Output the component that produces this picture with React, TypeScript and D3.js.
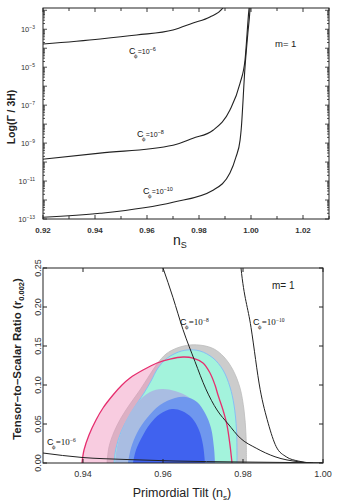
import React from 'react';
import * as d3 from 'd3';

const SANS = "'Liberation Sans', Arial, Helvetica, sans-serif";
const SERIF = "'Liberation Serif', 'Times New Roman', serif";

// ---- top panel: log10(Γ/3H) vs n_s ----
const topNs6 = [0.92, 0.942, 0.956, 0.97, 0.9777, 0.9842, 0.9892, 0.9905];
const topLog6 = [-3.78, -3.51, -3.3, -3.04, -2.67, -2.35, -1.88, -1.6];
const topNs8 = [0.92, 0.9419, 0.97, 0.9777, 0.9854, 0.9919, 0.9958, 0.9977, 0.9992, 0.9996];
const topLog8 = [-9.85, -9.53, -9.11, -8.74, -8.32, -7.26, -5.84, -4.62, -1.98, -1.5];
const topNs10 = [0.92, 0.9419, 0.97, 0.9854, 0.9919, 0.9942, 0.9958, 0.9962, 0.9977, 0.9988, 0.9996, 0.9998];
const topLog10 = [-12.91, -12.7, -12.12, -11.48, -10.58, -9.74, -8.84, -8.32, -4.99, -3.2, -1.98, -1.5];
const topXTicks = [0.92, 0.94, 0.96, 0.98, 1.0, 1.02];
const topExpLabels = [-3, -5, -7, -9, -11, -13];

// ---- bottom panel: r vs n_s ----
const botNs6 = [0.93, 0.93975, 0.95075, 0.9625, 0.97925, 0.99425, 1.0];
const botR6 = [0.0128, 0.0071, 0.0045, 0.0026, 0.0013, 0.0005, 0.0003];
const botNs8 = [0.9593, 0.96, 0.9625, 0.965, 0.968, 0.9707, 0.9735, 0.9763, 0.9793, 0.9833, 0.988, 0.994, 0.9975];
const botR8 = [0.26, 0.25, 0.212, 0.171, 0.13, 0.095, 0.068, 0.05, 0.032, 0.019, 0.008, 0.0015, 0];
const botNs10 = [0.9793, 0.9795, 0.982, 0.9843, 0.9863, 0.9883, 0.9908, 0.9938, 0.997];
const botR10 = [0.26, 0.25, 0.174, 0.094, 0.051, 0.021, 0.008, 0.0025, 0];

// contours (n_s, r)
const grayNs = [0.946, 0.9465, 0.94775, 0.9495, 0.95175, 0.95425, 0.9565, 0.9585, 0.96075, 0.9635, 0.96675, 0.97, 0.97275, 0.97525, 0.9775, 0.97925, 0.98025, 0.98075, 0.98088];
const grayR = [0, 0.0205, 0.0397, 0.0577, 0.0756, 0.0936, 0.1115, 0.1269, 0.1397, 0.1474, 0.1513, 0.1506, 0.1462, 0.1359, 0.1192, 0.0962, 0.068, 0.0359, 0];
const pinkNs = [0.93975, 0.94025, 0.9415, 0.94325, 0.945, 0.9475, 0.94975, 0.95175, 0.955, 0.9585, 0.96175, 0.965, 0.9675, 0.97, 0.97175, 0.973, 0.97375, 0.975, 0.976, 0.97675, 0.97725];
const pinkR = [0, 0.0167, 0.0359, 0.0551, 0.0705, 0.0872, 0.1, 0.109, 0.1192, 0.1282, 0.1333, 0.1359, 0.1346, 0.1282, 0.1154, 0.1, 0.0872, 0.068, 0.0487, 0.023, 0];
const cyanNs = [0.94775, 0.94825, 0.9495, 0.95125, 0.95325, 0.95525, 0.957, 0.95875, 0.96075, 0.96325, 0.966, 0.96925, 0.9725, 0.975, 0.97675, 0.97775, 0.97838, 0.9785];
const cyanR = [0, 0.0192, 0.0397, 0.0577, 0.0744, 0.0897, 0.1051, 0.1218, 0.1333, 0.141, 0.1449, 0.1436, 0.1346, 0.1192, 0.0974, 0.0744, 0.0423, 0];
const steelNs = [0.948, 0.9485, 0.94975, 0.9515, 0.95375, 0.95675, 0.95975, 0.963, 0.96675, 0.9695, 0.971, 0.9715];
const steelR = [0, 0.0205, 0.0423, 0.0615, 0.0782, 0.091, 0.0949, 0.0923, 0.0833, 0.0654, 0.0397, 0];
const midNs = [0.95125, 0.952, 0.9535, 0.956, 0.95925, 0.963, 0.96575, 0.9685, 0.9705, 0.972, 0.97275, 0.973];
const midR = [0, 0.0192, 0.0385, 0.0577, 0.0744, 0.0833, 0.0846, 0.0782, 0.0641, 0.0449, 0.0192, 0];
const darkNs = [0.9525, 0.95325, 0.95475, 0.95675, 0.95925, 0.96225, 0.96475, 0.96725, 0.969, 0.97, 0.9705];
const darkR = [0, 0.0167, 0.0333, 0.05, 0.0628, 0.0692, 0.0667, 0.0577, 0.0423, 0.0231, 0];
const botXTicks = [0.94, 0.96, 0.98, 1.0];
const botYTicks = [0, 0.05, 0.1, 0.15, 0.2, 0.25];

const tx = d3.scaleLinear().domain([0.92, 1.03]).range([43, 329]);
const ty = d3.scaleLog().domain([1e-13, Math.pow(10, -1.88)]).range([219, 8]);
const bx = d3.scaleLinear().domain([0.93, 1.0]).range([43, 323]);
const by = d3.scaleLinear().domain([0, 0.25]).range([463, 268]);

const topLine = d3.line<[number, number]>()
  .x(d => tx(d[0])).y(d => ty(Math.pow(10, d[1])))
  .curve(d3.curveMonotoneX);
const botLine = d3.line<[number, number]>()
  .x(d => bx(d[0])).y(d => by(d[1]))
  .curve(d3.curveMonotoneX);
const blob = d3.line<[number, number]>()
  .x(d => bx(d[0])).y(d => by(d[1]))
  .curve(d3.curveCatmullRom.alpha(0.5));

const pairs = (a: number[], b: number[]) => d3.zip(a, b) as [number, number][];
const contour = (a: number[], b: number[]) => blob(pairs(a, b)) + 'Z';

function CLabel({ x, y, exp, serif }: { x: number; y: number; exp: string; serif?: boolean }) {
  return (
    <text x={x} y={y} fontFamily={SANS} fontSize={9} fill="#111">
      C
      <tspan dx={-1.5} dy={3.5} fontSize={6.5} fontFamily={SERIF}>ϕ</tspan>
      <tspan dx={0.3} dy={-3.5} fontSize={serif ? 9 : 7} fontFamily={serif ? SERIF : SANS}>=10</tspan>
      <tspan dy={-3.5} fontSize={5.5} fontFamily={serif ? SERIF : SANS}>{exp}</tspan>
    </text>
  );
}

function TopPanel() {
  const minorX = d3.range(92, 104).map(v => v / 100);
  const logTicks: { v: number; major: boolean }[] = [];
  for (let e = -13; e <= -2; e++) {
    for (let k = 1; k <= 9; k++) {
      const v = k * Math.pow(10, e);
      if (v >= 1e-13 && v <= Math.pow(10, -1.88)) logTicks.push({ v, major: k === 1 });
    }
  }
  const [x0, x1] = tx.range();
  const [y0, y1] = ty.range();
  return (
    <g>
      <defs>
        <clipPath id="clipTop"><rect x={x0} y={y1} width={x1 - x0} height={y0 - y1} /></clipPath>
      </defs>
      <g clipPath="url(#clipTop)" fill="none" stroke="#222" strokeWidth={1.1}>
        <path d={topLine(pairs(topNs6, topLog6)) || ''} />
        <path d={topLine(pairs(topNs8, topLog8)) || ''} />
        <path d={topLine(pairs(topNs10, topLog10)) || ''} />
      </g>
      <rect x={x0} y={y1} width={x1 - x0} height={y0 - y1} fill="none" stroke="#222" strokeWidth={1} />
      {minorX.map(v => {
        const major = topXTicks.some(t => Math.abs(t - v) < 1e-6);
        const l = major ? 4 : 3;
        return (
          <g key={v} stroke="#222" strokeWidth={0.9}>
            <line x1={tx(v)} x2={tx(v)} y1={y0} y2={y0 - l} />
            <line x1={tx(v)} x2={tx(v)} y1={y1} y2={y1 + l} />
          </g>
        );
      })}
      {logTicks.map(t => {
        const l = t.major ? 4 : 2;
        return (
          <g key={t.v} stroke="#222" strokeWidth={0.8}>
            <line x1={x0} x2={x0 + l} y1={ty(t.v)} y2={ty(t.v)} />
            <line x1={x1} x2={x1 - l} y1={ty(t.v)} y2={ty(t.v)} />
          </g>
        );
      })}
      {topXTicks.map(v => (
        <text key={v} x={tx(v)} y={233} textAnchor="middle" fontFamily={SANS} fontSize={8} fontWeight="bold" fill="#333">
          {d3.format('.2f')(v)}
        </text>
      ))}
      {topExpLabels.map(e => (
        <text key={e} x={35} y={ty(Math.pow(10, e)) + 3} textAnchor="end" fontFamily={SANS} fontSize={7.5} fill="#333">
          10<tspan dy={-3} fontSize={5}>{'−' + (-e)}</tspan>
        </text>
      ))}
      <text transform="translate(15,117) rotate(-90)" textAnchor="middle" fontFamily={SANS} fontSize={10.5} fontWeight="bold" fill="#222">
        Log(Γ / 3H)
      </text>
      <text x={173} y={245} fontFamily={SANS} fontSize={14} fill="#222">
        n<tspan dy={3} fontSize={9}>S</tspan>
      </text>
      <text x={275} y={47} fontFamily={SANS} fontSize={9.5} fill="#222">m= 1</text>
      <CLabel x={129} y={54} exp="−6" />
      <CLabel x={137} y={137} exp="−8" />
      <CLabel x={143} y={194} exp="−10" />
    </g>
  );
}

function BottomPanel() {
  const [x0, x1] = bx.range();
  const [y0, y1] = by.range();
  return (
    <g>
      <defs>
        <clipPath id="clipBot"><rect x={x0} y={y1} width={x1 - x0} height={y0 - y1} /></clipPath>
      </defs>
      <g clipPath="url(#clipBot)">
        <path d={contour(grayNs, grayR)} fill="#cccccc" stroke="#bcbcbc" strokeWidth={0.8} />
        <path d={contour(pinkNs, pinkR)} fill="#ef8fbb" fillOpacity={0.45} />
        <path d={contour(cyanNs, cyanR)} fill="#a3f3dc" stroke="#86c0f5" strokeWidth={1} />
        <path d={contour(steelNs, steelR)} fill="#a9bde2" />
        <path d={contour(midNs, midR)} fill="#6f97ee" />
        <path d={contour(darkNs, darkR)} fill="#4062ef" />
        <path d={blob(pairs(pinkNs, pinkR)) || ''} fill="none" stroke="#e62e6e" strokeWidth={1.3} />
        <g fill="none" stroke="#222" strokeWidth={1}>
          <path d={botLine(pairs(botNs6, botR6)) || ''} />
          <path d={botLine(pairs(botNs8, botR8)) || ''} />
          <path d={botLine(pairs(botNs10, botR10)) || ''} />
        </g>
      </g>
      <rect x={x0} y={y1} width={x1 - x0} height={y0 - y1} fill="none" stroke="#222" strokeWidth={1} />
      {botXTicks.map(v => (
        <g key={v}>
          <line x1={bx(v)} x2={bx(v)} y1={y0} y2={y0 - 4} stroke="#222" />
          <line x1={bx(v)} x2={bx(v)} y1={y1} y2={y1 + 4} stroke="#222" />
          <text x={bx(v)} y={477} textAnchor="middle" fontFamily={SANS} fontSize={9} fill="#333">
            {d3.format('.2f')(v)}
          </text>
        </g>
      ))}
      {botYTicks.map(v => (
        <g key={v}>
          <line x1={x0} x2={x0 + 4} y1={by(v)} y2={by(v)} stroke="#222" />
          <line x1={x1} x2={x1 - 4} y1={by(v)} y2={by(v)} stroke="#222" />
          <text transform={`translate(41,${by(v)}) rotate(-90)`} textAnchor="middle" fontFamily={SANS} fontSize={9} fill="#333">
            {d3.format('.2f')(v)}
          </text>
        </g>
      ))}
      <text transform="translate(21,359) rotate(-90)" textAnchor="middle" fontFamily={SANS} fontSize={11.5} fontWeight="bold" fill="#222">
        Tensor–to–Scalar Ratio (r<tspan dy={3} fontSize={7.5}>0.002</tspan><tspan dy={-3}>)</tspan>
      </text>
      <text x={182} y={497} textAnchor="middle" fontFamily={SANS} fontSize={12.5} fill="#222">
        Primordial Tilt (n<tspan dy={3} fontSize={8}>s</tspan><tspan dy={-3}>)</tspan>
      </text>
      <text x={272} y={289} fontFamily={SANS} fontSize={10} fill="#222">m= 1</text>
      <CLabel x={180} y={325} exp="−8" serif />
      <CLabel x={253} y={325} exp="−10" serif />
      <CLabel x={47} y={445} exp="−6" serif />
    </g>
  );
}

export default function App() {
  return (
    <svg width={346} height={504} style={{ position: 'absolute', left: 0, top: 0, background: '#fff' }}>
      <TopPanel />
      <BottomPanel />
    </svg>
  );
}
